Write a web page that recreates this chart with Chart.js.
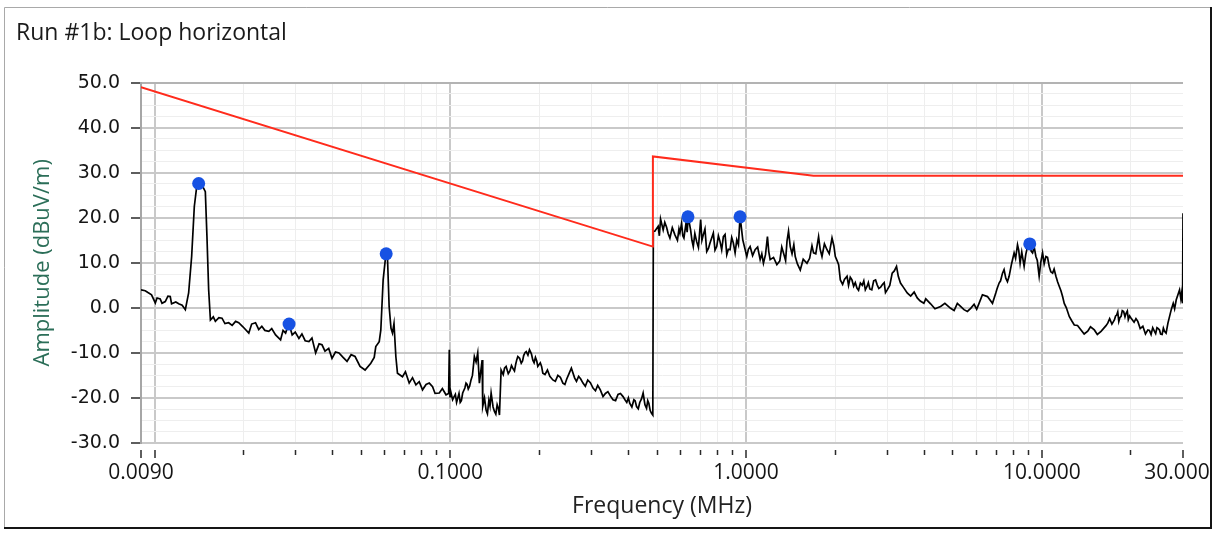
<!DOCTYPE html>
<html>
<head>
<meta charset="utf-8">
<script src="https://cdn.jsdelivr.net/npm/chart.js@4.4.1/dist/chart.umd.min.js"></script>
<style>
html,body{margin:0;padding:0;background:#fff;}
canvas{display:block;}
</style>
</head>
<body>
<canvas id="c" width="1217" height="539"></canvas>
<script>
const chartTitle = 'Run #1b: Loop horizontal';
const xTitle = 'Frequency (MHz)';
const yTitle = 'Amplitude (dBuV/m)';

const xMin = 0.009, xMax = 30;
const yMin = -30, yMax = 50;
const xTickValues = [0.009, 0.01, 0.02, 0.03, 0.04, 0.05, 0.06, 0.07, 0.08, 0.09,
  0.1, 0.2, 0.3, 0.4, 0.5, 0.6, 0.7, 0.8, 0.9,
  1, 2, 3, 4, 5, 6, 7, 8, 9,
  10, 20, 30];
const xMajorValues = [0.009, 0.01, 0.1, 1, 10, 30];
const xLabelValues = [0.009, 0.1, 1, 10, 30];
const xLabelTexts = ['0.0090', '0.1000', '1.0000', '10.0000', '30.0000'];

// limit line (red)
const limitFreq = [0.009, 0.484, 0.4841, 1.69, 30];
const limitAmp  = [49.0, 13.6, 33.6, 29.3, 29.3];

// detected peaks (blue markers)
const peakFreq = [0.0141, 0.0285, 0.0607, 0.636, 0.954, 9.10];
const peakAmp  = [27.6, -3.6, 12.0, 20.2, 20.2, 14.2];

// measured spectrum (black trace), main readings
const traceFreq = [
  0.0090, 0.0093, 0.0095, 0.00977, 0.01006, 0.0102, 0.01045, 0.0106, 0.01087, 0.0111,
  0.01130, 0.01142, 0.0118, 0.01207, 0.0124, 0.01271, 0.01304, 0.01335, 0.01363, 0.01391,
  0.01410, 0.01446, 0.01485, 0.01504, 0.01524, 0.01545, 0.0158, 0.01606, 0.0165, 0.01691,
  0.0173, 0.01781, 0.0183, 0.0188, 0.01926, 0.0199, 0.02083, 0.0213, 0.02195, 0.0225,
  0.02305, 0.0236, 0.02434, 0.0249, 0.02566, 0.02668, 0.0272, 0.02774, 0.02846, 0.02920,
  0.0299, 0.03077, 0.0315, 0.0323, 0.03327, 0.03406, 0.03505, 0.0360, 0.03683, 0.0377,
  0.0388, 0.03981, 0.0409, 0.04204, 0.0434, 0.04475, 0.0462, 0.04764, 0.04953, 0.05150,
  0.05385, 0.0553, 0.05598, 0.0575, 0.05822, 0.05928, 0.06053, 0.06130, 0.06211, 0.0630,
  0.06373, 0.0645, 0.06544, 0.06627, 0.06891, 0.0705, 0.07261, 0.0745, 0.07650, 0.0785,
  0.08054, 0.0828, 0.08488, 0.08710, 0.0888, 0.09178, 0.0940, 0.09670, 0.0987, 0.09922,
  0.09977, 0.1018, 0.1040, 0.1059, 0.1080, 0.1101, 0.1130, 0.1150, 0.1175, 0.1206,
  0.1238, 0.1254, 0.1281, 0.1287, 0.1321, 0.1350, 0.1374, 0.1410, 0.1440, 0.1466,
  0.1485, 0.1510, 0.1544, 0.1590, 0.1627, 0.1665, 0.1691, 0.1737, 0.1770, 0.1806,
  0.1852, 0.1901, 0.1940, 0.1976, 0.2015, 0.2055, 0.2130, 0.2222, 0.2310, 0.2402,
  0.2475, 0.2566, 0.2633, 0.2715, 0.2809, 0.2915, 0.3037, 0.3150, 0.3283, 0.3410,
  0.3549, 0.3690, 0.3837, 0.3950, 0.4045, 0.4175, 0.4262, 0.4370, 0.4486, 0.4607,
  0.4690, 0.4790, 0.4838, 0.4857, 0.4914, 0.5043, 0.5138, 0.5244, 0.5385, 0.5526,
  0.5746, 0.5974, 0.6053, 0.6163, 0.6270, 0.6372, 0.6492, 0.6629, 0.6806, 0.7021,
  0.7166, 0.7361, 0.7551, 0.7749, 0.7956, 0.8164, 0.8378, 0.8603, 0.8826, 0.9055,
  0.9300, 0.9543, 0.9745, 1.0055, 1.0318, 1.0728, 1.1156, 1.1446, 1.1808, 1.2060,
  1.2707, 1.3380, 1.3914, 1.4101, 1.4659, 1.5244, 1.6062, 1.6908, 1.7582, 1.8055,
  1.8775, 1.9520, 2.0030, 2.0553, 2.0826, 2.12, 2.1945, 2.25, 2.3102, 2.37,
  2.4344, 2.50, 2.5654, 2.62, 2.70, 2.7745, 2.85, 2.93, 2.9992, 3.1186,
  3.2253, 3.3266, 3.5054, 3.7896, 3.9902, 4.05, 4.2049, 4.35, 4.5457, 4.70,
  4.9140, 5.05, 5.1787, 5.30, 5.4522, 5.60, 5.7449, 5.90, 6.02, 6.1318,
  6.2951, 6.5466, 6.8077, 6.9854, 7.1680, 7.3603, 7.5509, 7.7484, 8.0560, 8.2724,
  8.4416, 8.7096, 8.9432, 9.1058, 9.3011, 9.5439, 9.7904, 10.055, 10.318, 10.586,
  10.872, 11.156, 11.446, 11.902, 12.376, 12.869, 13.2, 13.561, 13.9, 14.288,
  14.6, 15.044, 15.4, 15.849, 16.2, 16.699, 17.583, 17.9, 18.2, 18.526,
  18.9, 19.262, 19.6, 20.030, 21.104, 21.947, 22.4, 22.820, 23.4, 24.029,
  24.5, 24.983, 25.5, 25.980, 26.679, 27.375, 28.464, 29.205, 29.90, 30.0
];
const traceAmp = [
  4.0, 3.8, 3.4, 2.9, 1.1, 2.2, 2.0, 1.0, 1.4, 2.6,
  2.5, 0.9, 1.3, 0.9, 0.6, -0.4, 3.3, 11.4, 22.5, 27.3,
  28.0, 27.3, 25.8, 15.8, 4.0, -2.7, -2.0, -3.0, -2.2, -2.3,
  -3.5, -3.3, -3.9, -3.0, -3.3, -4.2, -5.6, -3.6, -3.3, -4.8,
  -4.1, -5.0, -5.2, -4.6, -6.0, -7.1, -5.0, -5.6, -3.4, -6.0,
  -5.4, -6.8, -5.8, -7.3, -7.5, -6.7, -10.0, -8.0, -8.2, -9.6,
  -9.0, -11.2, -9.8, -10.0, -11.0, -11.9, -10.4, -10.8, -13.0, -13.8,
  -12.3, -11.0, -8.6, -7.5, -4.9, 6.2, 11.8, 11.4, 0.3, -4.5,
  -5.6, -3.5, -10.8, -14.5, -15.3, -14.2, -16.7, -15.5, -17.1, -16.4,
  -18.2, -17.0, -16.7, -17.5, -19.0, -18.9, -17.9, -19.3, -19.0, -9.3,
  -19.7, -20.4, -19.2, -20.1, -21.0, -18.9, -16.7, -18.0, -16.0, -10.8,
  -10.0, -16.7, -11.6, -21.9, -22.7, -20.5, -18.9, -23.0, -21.5, -23.8,
  -13.8, -14.8, -13.0, -14.0, -13.4, -12.4, -10.8, -12.3, -10.6, -9.7,
  -9.3, -11.6, -11.0, -13.0, -12.2, -14.5, -13.8, -16.0, -15.0, -16.7,
  -15.8, -13.4, -15.6, -15.2, -16.7, -16.0, -17.8, -17.2, -19.7, -18.6,
  -20.4, -19.2, -19.7, -21.0, -21.2, -20.4, -21.9, -21.0, -18.9, -22.3,
  -21.2, -23.4, -23.8, 17.0, 17.0, 18.1, 19.7, 17.3, 17.9, 15.5,
  16.2, 16.6, 18.8, 15.5, 19.0, 20.2, 17.3, 13.6, 14.7, 19.6,
  16.2, 12.5, 14.4, 16.6, 13.6, 14.7, 15.8, 11.8, 12.9, 14.4,
  15.1, 20.3, 15.1, 11.4, 13.6, 12.9, 10.7, 9.9, 15.8, 10.7,
  9.6, 12.2, 17.0, 13.6, 11.4, 8.4, 9.9, 12.2, 15.8, 11.4,
  12.9, 15.5, 11.4, 9.6, 6.2, 5.2, 7.0, 6.8, 4.8, 4.4,
  5.5, 6.0, 4.8, 4.2, 6.0, 5.1, 4.6, 5.6, 4.0, 7.7,
  9.2, 5.5, 3.3, 2.2, 1.0, 2.0, 0.9, -0.2, 0.3, 1.0,
  -0.1, -0.6, 1.0, 0.4, -0.4, -0.8, -0.1, 0.8, -0.3, 1.0,
  2.9, 2.5, 1.0, 3.3, 5.5, 7.7, 6.6, 7.0, 12.2, 14.0,
  9.9, 9.2, 13.6, 14.6, 12.2, 11.4, 7.0, 12.2, 11.4, 9.2,
  7.7, 7.0, 4.8, 1.0, -1.9, -3.8, -3.9, -4.9, -5.8, -5.2,
  -4.2, -4.9, -5.9, -5.2, -4.5, -3.4, -2.7, -1.6, -3.0, -1.9,
  -0.8, -1.2, -2.6, -2.3, -3.0, -4.1, -5.8, -4.9, -5.9, -5.2,
  -4.4, -4.9, -5.9, -5.2, -3.4, -0.4, 1.8, 4.0, 1.0, 21.0
];

// extra readings of the noisy band (merged with the main readings by frequency)
const bandFreq = [
  0.1005, 0.1028, 0.1050, 0.1070, 0.1090, 0.1120, 0.1140, 0.1162, 0.1188, 0.1222,
  0.1305, 0.1335, 0.1362, 0.1395, 0.1425, 0.1455,
  0.1525, 0.1570, 0.1610, 0.1648, 0.1678, 0.1715, 0.1755, 0.1790, 0.1830, 0.1880,
  0.1920, 0.1960, 0.2035, 0.2090, 0.2170, 0.2265, 0.2355, 0.2440, 0.2520, 0.2670,
  0.2760, 0.2860, 0.2975, 0.3095, 0.3215, 0.3345, 0.3480, 0.3620, 0.3760, 0.3895,
  0.4000, 0.4110, 0.4215, 0.4320, 0.4430, 0.4550, 0.4650, 0.4740,
  0.509, 0.531, 0.545, 0.563, 0.586, 0.593, 0.611, 0.632, 0.656, 0.671,
  0.690, 0.709, 0.726, 0.746, 0.765, 0.785, 0.806, 0.827, 0.849, 0.871,
  0.894, 0.918, 0.942,
  1.018, 1.052, 1.094, 1.130, 1.163, 1.193, 1.238, 1.300, 1.320, 1.360,
  1.375, 1.430, 1.450, 1.490, 1.560, 1.640, 1.670, 1.720, 1.780, 1.840,
  1.910, 1.980, 2.030,
  2.15, 2.22, 2.28, 2.34, 2.40, 2.47, 2.53, 2.59, 2.66, 2.74,
  2.81, 2.89, 2.96, 3.06, 3.17, 3.27, 3.40, 3.60, 3.70, 3.88,
  7.05, 7.25, 7.45, 7.65, 7.90, 8.15, 8.35, 8.55, 8.82, 9.20,
  9.42, 9.65, 9.92, 10.18, 10.45, 10.72, 11.0, 11.3, 11.6, 11.75,
  12.1, 12.6,
  16.45, 16.95, 17.25, 17.75, 18.05, 18.35, 18.7, 19.1, 19.45, 19.8,
  20.5, 20.8, 21.5, 23.1, 23.7, 24.25, 24.75, 25.2, 25.75, 26.3,
  27.0, 27.8, 28.1, 28.8, 29.5, 29.7
];
const bandAmp = [
  -18.8, -19.8, -21.0, -19.0, -20.6, -17.8, -17.0, -17.4, -15.0, -12.0,
  -20.0, -23.5, -21.8, -22.0, -23.6, -22.4,
  -13.4, -14.6, -12.8, -14.0, -11.5, -11.2, -11.8, -9.9, -10.5, -10.2,
  -12.2, -11.8, -13.0, -14.8, -15.2, -16.3, -15.4, -17.0, -14.6, -16.3,
  -15.8, -17.4, -16.6, -18.4, -18.2, -19.0, -19.6, -20.6, -19.0, -20.4,
  -20.0, -22.0, -20.6, -22.4, -20.2, -21.5, -20.6, -22.8,
  16.0, 19.0, 16.5, 17.8, 15.0, 17.5, 16.0, 16.8, 15.0, 16.5,
  13.4, 15.0, 17.5, 13.2, 15.5, 12.8, 16.0, 12.9, 16.3, 13.0,
  15.6, 12.2, 14.0,
  13.0, 11.6, 13.5, 12.0, 11.8, 12.5, 11.2, 10.4, 13.5, 10.5,
  14.8, 12.0, 14.0, 9.8, 10.8, 11.0, 13.8, 12.0, 13.0, 14.2,
  12.0, 13.8, 10.5,
  6.3, 5.0, 6.2, 5.6, 3.9, 5.0, 4.0, 5.6, 4.0, 6.2,
  4.3, 5.2, 3.4, 5.0, 8.2, 7.0, 4.6, 2.6, 3.5, 1.5,
  4.2, 6.0, 8.5, 5.8, 9.8, 11.0, 12.8, 12.4, 11.8, 12.6,
  13.5, 10.5, 10.2, 9.8, 11.2, 8.0, 8.6, 5.8, 3.8, 2.5,
  0.0, -2.8,
  -4.0, -2.4, -3.6, -1.8, -0.9, -2.2, -0.6, -2.0, -0.7, -1.8,
  -3.2, -2.4, -4.6, -5.0, -4.4, -5.7, -4.6, -5.8, -4.5, -5.6,
  -2.0, 1.0, -0.2, 2.8, 2.0, 3.4
];

function pairs(xs, ys) { return xs.map((x, i) => ({x: x, y: ys[i]})); }
const tracePoints = pairs(traceFreq, traceAmp).concat(pairs(bandFreq, bandAmp))
  .sort((a, b) => a.x - b.x);
const isMajorY = v => Math.abs(v % 10) < 1e-9;
const isXMajor = v => xMajorValues.some(m => Math.abs(m - v) < 1e-9);

const framePlugin = {
  id: 'frame',
  beforeDraw(chart) {
    const c = chart.ctx;
    c.save(); c.fillStyle = '#ffffff'; c.fillRect(0, 0, chart.width, chart.height); c.restore();
  },
  afterDraw(chart) {
    const c = chart.ctx;
    c.save();
    c.fillStyle = '#ffffff';
    c.fillRect(1212, 0, chart.width - 1212, chart.height);
    c.fillRect(0, 529, chart.width, chart.height - 529);
    c.strokeStyle = '#a9a9a9'; c.lineWidth = 1;
    c.beginPath(); c.moveTo(4.5, 528); c.lineTo(4.5, 7.5); c.lineTo(1211, 7.5); c.stroke();
    c.strokeStyle = '#151515'; c.lineWidth = 2;
    c.beginPath(); c.moveTo(1211, 7); c.lineTo(1211, 528); c.lineTo(4, 528); c.stroke();
    c.restore();
  }
};

new Chart(document.getElementById('c'), {
  type: 'line',
  data: {
    datasets: [
      { label: 'Peaks', data: pairs(peakFreq, peakAmp), showLine: false, pointRadius: 6.5,
        pointHoverRadius: 6.5, backgroundColor: '#1752e3', borderColor: '#1752e3', borderWidth: 0, order: 0 },
      { label: 'Limit', data: pairs(limitFreq, limitAmp), borderColor: '#ff2b1c', borderWidth: 2,
        pointRadius: 0, tension: 0, fill: false, order: 1 },
      { label: 'Trace', data: tracePoints, borderColor: '#000000', borderWidth: 1.7,
        pointRadius: 0, tension: 0, fill: false, order: 2 }
    ]
  },
  options: {
    responsive: false,
    animation: false,
    devicePixelRatio: 1,
    layout: { padding: { left: 16, top: 8, right: 34, bottom: 9 } },
    plugins: {
      legend: { display: false },
      tooltip: { enabled: false },
      title: {
        display: true, text: chartTitle, align: 'start',
        font: { family: 'Open Sans', size: 23, weight: 'normal' },
        color: '#1a1a1a', padding: { top: 12, bottom: 35 }
      }
    },
    scales: {
      x: {
        type: 'logarithmic', min: xMin, max: xMax,
        afterBuildTicks: s => { s.ticks = xTickValues.map(v => ({ value: v })); },
        afterFit: s => { s.height = 87; s.paddingLeft = 0; s.paddingRight = 0; },
        border: { display: false },
        grid: {
          color: ctx => {
            const v = ctx.tick ? ctx.tick.value : 0;
            if (Math.abs(v - xMin) < 1e-9 || Math.abs(v - xMax) < 1e-9) return 'rgba(0,0,0,0)';
            return isXMajor(v) ? '#c9c9c9' : '#eeeeee';
          },
          lineWidth: ctx => (ctx.tick && isXMajor(ctx.tick.value)) ? 2 : 1,
          drawTicks: true, tickLength: 15, tickWidth: 1.5, tickColor: '#2a2a2a',
          tickBorderDash: ctx => (ctx.tick && isXMajor(ctx.tick.value)) ? [0, 7, 8, 100] : [0, 7, 5, 100]
        },
        ticks: {
          autoSkip: false, maxRotation: 0, minRotation: 0, padding: 2,
          font: { family: 'Open Sans', size: 21 }, color: '#151515',
          callback: function (value) {
            const i = xLabelValues.findIndex(m => Math.abs(m - value) < 1e-9);
            return i >= 0 ? xLabelTexts[i] : '';
          }
        },
        title: {
          display: true, text: xTitle, color: '#222222',
          font: { family: 'Open Sans', size: 23 }, padding: { top: 0, bottom: 10 }
        }
      },
      y: {
        min: yMin, max: yMax,
        afterFit: s => { s.width = 125; s.paddingTop = 0; s.paddingBottom = 0; },
        border: { display: true, color: '#a6a6a6', width: 2 },
        grid: {
          color: ctx => {
            const v = ctx.tick ? ctx.tick.value : 0;
            if (v === yMax) return '#b3b3b3';
            return isMajorY(v) ? '#c9c9c9' : '#eeeeee';
          },
          lineWidth: ctx => (ctx.tick && isMajorY(ctx.tick.value)) ? 2 : 1,
          drawTicks: true, tickLength: 13, tickWidth: 1.5,
          tickColor: ctx => (ctx.tick && isMajorY(ctx.tick.value)) ? '#2a2a2a' : 'rgba(0,0,0,0)',
          tickBorderDash: [0, 3, 10, 100]
        },
        ticks: {
          stepSize: 2.5, autoSkip: false, padding: 8,
          font: { family: 'DejaVu Sans', size: 19 }, color: '#151515',
          callback: v => isMajorY(v) ? Number(v).toFixed(1) : ''
        },
        title: {
          display: true, text: yTitle, color: '#2b6e58',
          font: { family: 'Open Sans', size: 22 }, padding: { top: 14, bottom: 0 }
        }
      }
    }
  },
  plugins: [framePlugin]
});
</script>
</body>
</html>
